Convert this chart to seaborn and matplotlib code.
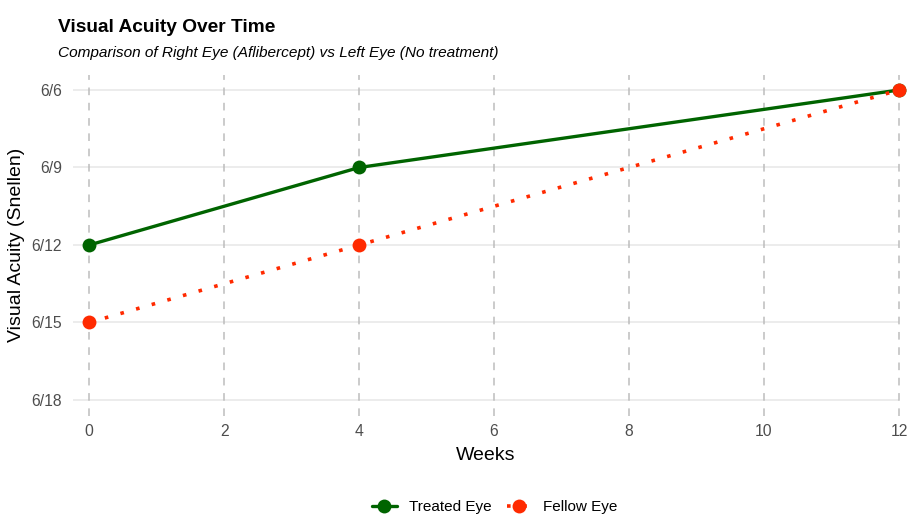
import numpy as np
import pandas as pd
import matplotlib
matplotlib.use('Agg')
import matplotlib.pyplot as plt
import seaborn as sns
from matplotlib.lines import Line2D

# data
weeks = [0, 4, 12]
treated_eye = [12, 9, 6]   # Snellen denominators (6/x)
fellow_eye = [15, 12, 6]
snellen_ticks = [6, 9, 12, 15, 18]
snellen_labels = ['6/6', '6/9', '6/12', '6/15', '6/18']
week_ticks = [0, 2, 4, 6, 8, 10, 12]

df = pd.DataFrame({
    'Weeks': weeks * 2,
    'Acuity': treated_eye + fellow_eye,
    'Eye': ['Treated Eye'] * len(weeks) + ['Fellow Eye'] * len(weeks),
})

sns.set_style('white')
plt.rcParams['font.family'] = ['Liberation Sans', 'DejaVu Sans']

green = '#006400'
red = '#FF2A00'
dots = (0, (1, 3.5))

fig = plt.figure(figsize=(9.07, 5.18), dpi=100)
ax = fig.add_axes([73 / 907, 1 - 415.5 / 518, 826 / 907, 341 / 518])

# grid
for y in snellen_ticks:
    ax.axhline(y, color='#EBEBEB', lw=1.3, zorder=0)
for x in week_ticks:
    ax.axvline(x, color='#BDBDBD', lw=1.1, ls=(0, (5, 5)), zorder=0.5, clip_on=False)

sns.lineplot(data=df[df['Eye'] == 'Treated Eye'], x='Weeks', y='Acuity', ax=ax,
             color=green, lw=2.4, marker='o', markersize=10, markeredgewidth=0,
             clip_on=False, zorder=3)
sns.lineplot(data=df[df['Eye'] == 'Fellow Eye'], x='Weeks', y='Acuity', ax=ax,
             color=red, lw=2.6, ls=dots, marker='o', markersize=10,
             markeredgewidth=0, clip_on=False, zorder=4)

ax.set_xlim(-0.24, 12)
ax.set_ylim(18.6, 5.4)
ax.set_xticks(week_ticks)
ax.set_yticks(snellen_ticks)
ax.set_yticklabels(snellen_labels)
ax.tick_params(axis='both', length=0, labelsize=11.3, labelcolor='#4D4D4D')
ax.tick_params(axis='y', pad=8)
ax.tick_params(axis='x', pad=6)
for s in ax.spines.values():
    s.set_visible(False)

ax.set_xlabel('Weeks', fontsize=14, color='black')
ax.set_ylabel('Visual Acuity (Snellen)', fontsize=14, color='black')
ax.yaxis.set_label_coords(-0.058, 0.5)
ax.xaxis.set_label_coords(0.5, -0.092)

fig.text(58 / 907, 1 - 32 / 518, 'Visual Acuity Over Time', fontsize=13.8,
         fontweight='bold', va='baseline', ha='left', color='black')
fig.text(58 / 907, 1 - 57 / 518,
         'Comparison of Right Eye (Aflibercept) vs Left Eye (No treatment)',
         fontsize=11.1, style='italic', va='baseline', ha='left', color='black')

handles = [
    Line2D([0], [0], color=green, lw=2.4, marker='o', markersize=10, markeredgewidth=0),
    Line2D([0], [0], color=red, lw=2.6, ls=dots, marker='o', markersize=10, markeredgewidth=0),
]
fig.legend(handles, ['Treated Eye', 'Fellow Eye'], loc='center',
           bbox_to_anchor=(495 / 907, 1 - 507 / 518), ncol=2, frameon=False,
           fontsize=11, handlelength=1.6, handletextpad=0.8, columnspacing=1.0,
           labelcolor='black')

fig.savefig('out.png', dpi=100)
